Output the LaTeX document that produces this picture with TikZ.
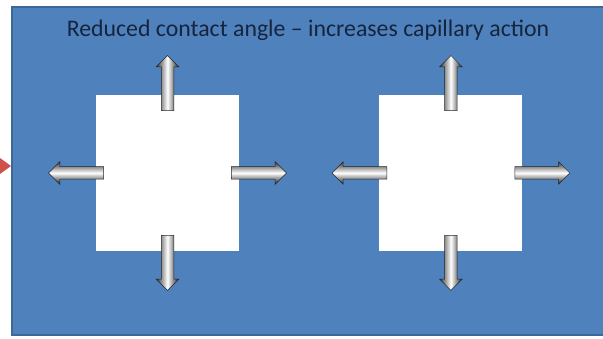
\documentclass[tikz,border=0pt]{standalone}
\usepackage{fontspec}
\setmainfont{Carlito}
\definecolor{capBlue}{HTML}{4F81BD}
\definecolor{capEdge}{HTML}{3B679B}
\definecolor{capInk}{HTML}{16243C}
\definecolor{capRed}{HTML}{D0504A}
\usetikzlibrary{
	arrows.meta,
	positioning,
	calc,
	shapes.arrows
}
\tikzset{
	fondo/.style={
		fill=capBlue,
		draw=capEdge,
		line width=1.2pt
	},
	hoja/.style={
		fill=white,
		draw=none,
		minimum width=143pt,
		minimum height=156pt,
		inner sep=0pt
	},
	titulo/.style={
		text=capInk,
		font=\fontsize{23.8}{28}\selectfont,
		inner sep=0pt
	},
	empuje/.style={
		single arrow,
		single arrow head extend=5pt,
		single arrow head indent=0pt,
		inner sep=0pt,
		inner ysep=6pt,
		minimum height=55pt,
		draw=black!85,
		line width=0.5pt,
		anchor=tail
	},
	empujeH/.style={
		empuje,
		top color=black!80,
		bottom color=black!90,
		middle color=white
	},
	empujeV/.style={
		empuje,
		left color=black!80,
		right color=black!90,
		middle color=white
	}
}

\begin{document}
\begin{tikzpicture}[x=1pt,y=-1pt]
		\useasboundingbox (0,0) rectangle (603,339);
		\fill[white] (0,0) rectangle (603,339);
		\draw[fondo] (12,7) rectangle (608,335);
		% red tip cut off at the left edge
		\fill[capRed] (0,158) -- (11,166) -- (0,174) -- cycle;
		\node[titulo] (title) at (308,30) {Reduced contact angle – increases capillary action};
		\node[hoja] (lSq) at (167.5,173) {};
		\node[hoja, right=140pt of lSq] (rSq) {};
		\foreach \sq in {lSq,rSq}{
			\node[empujeV, rotate=90] (\sq Up) at ([yshift=-16pt]\sq.north) {};
			\node[empujeV, rotate=-90] (\sq Down) at ([yshift=16pt]\sq.south) {};
			\node[empujeH, rotate=180] (\sq Left) at ([xshift=8pt]\sq.west) {};
			\node[empujeH] (\sq Right) at ([xshift=-8pt]\sq.east) {};
		}
	\end{tikzpicture}
\end{document}
